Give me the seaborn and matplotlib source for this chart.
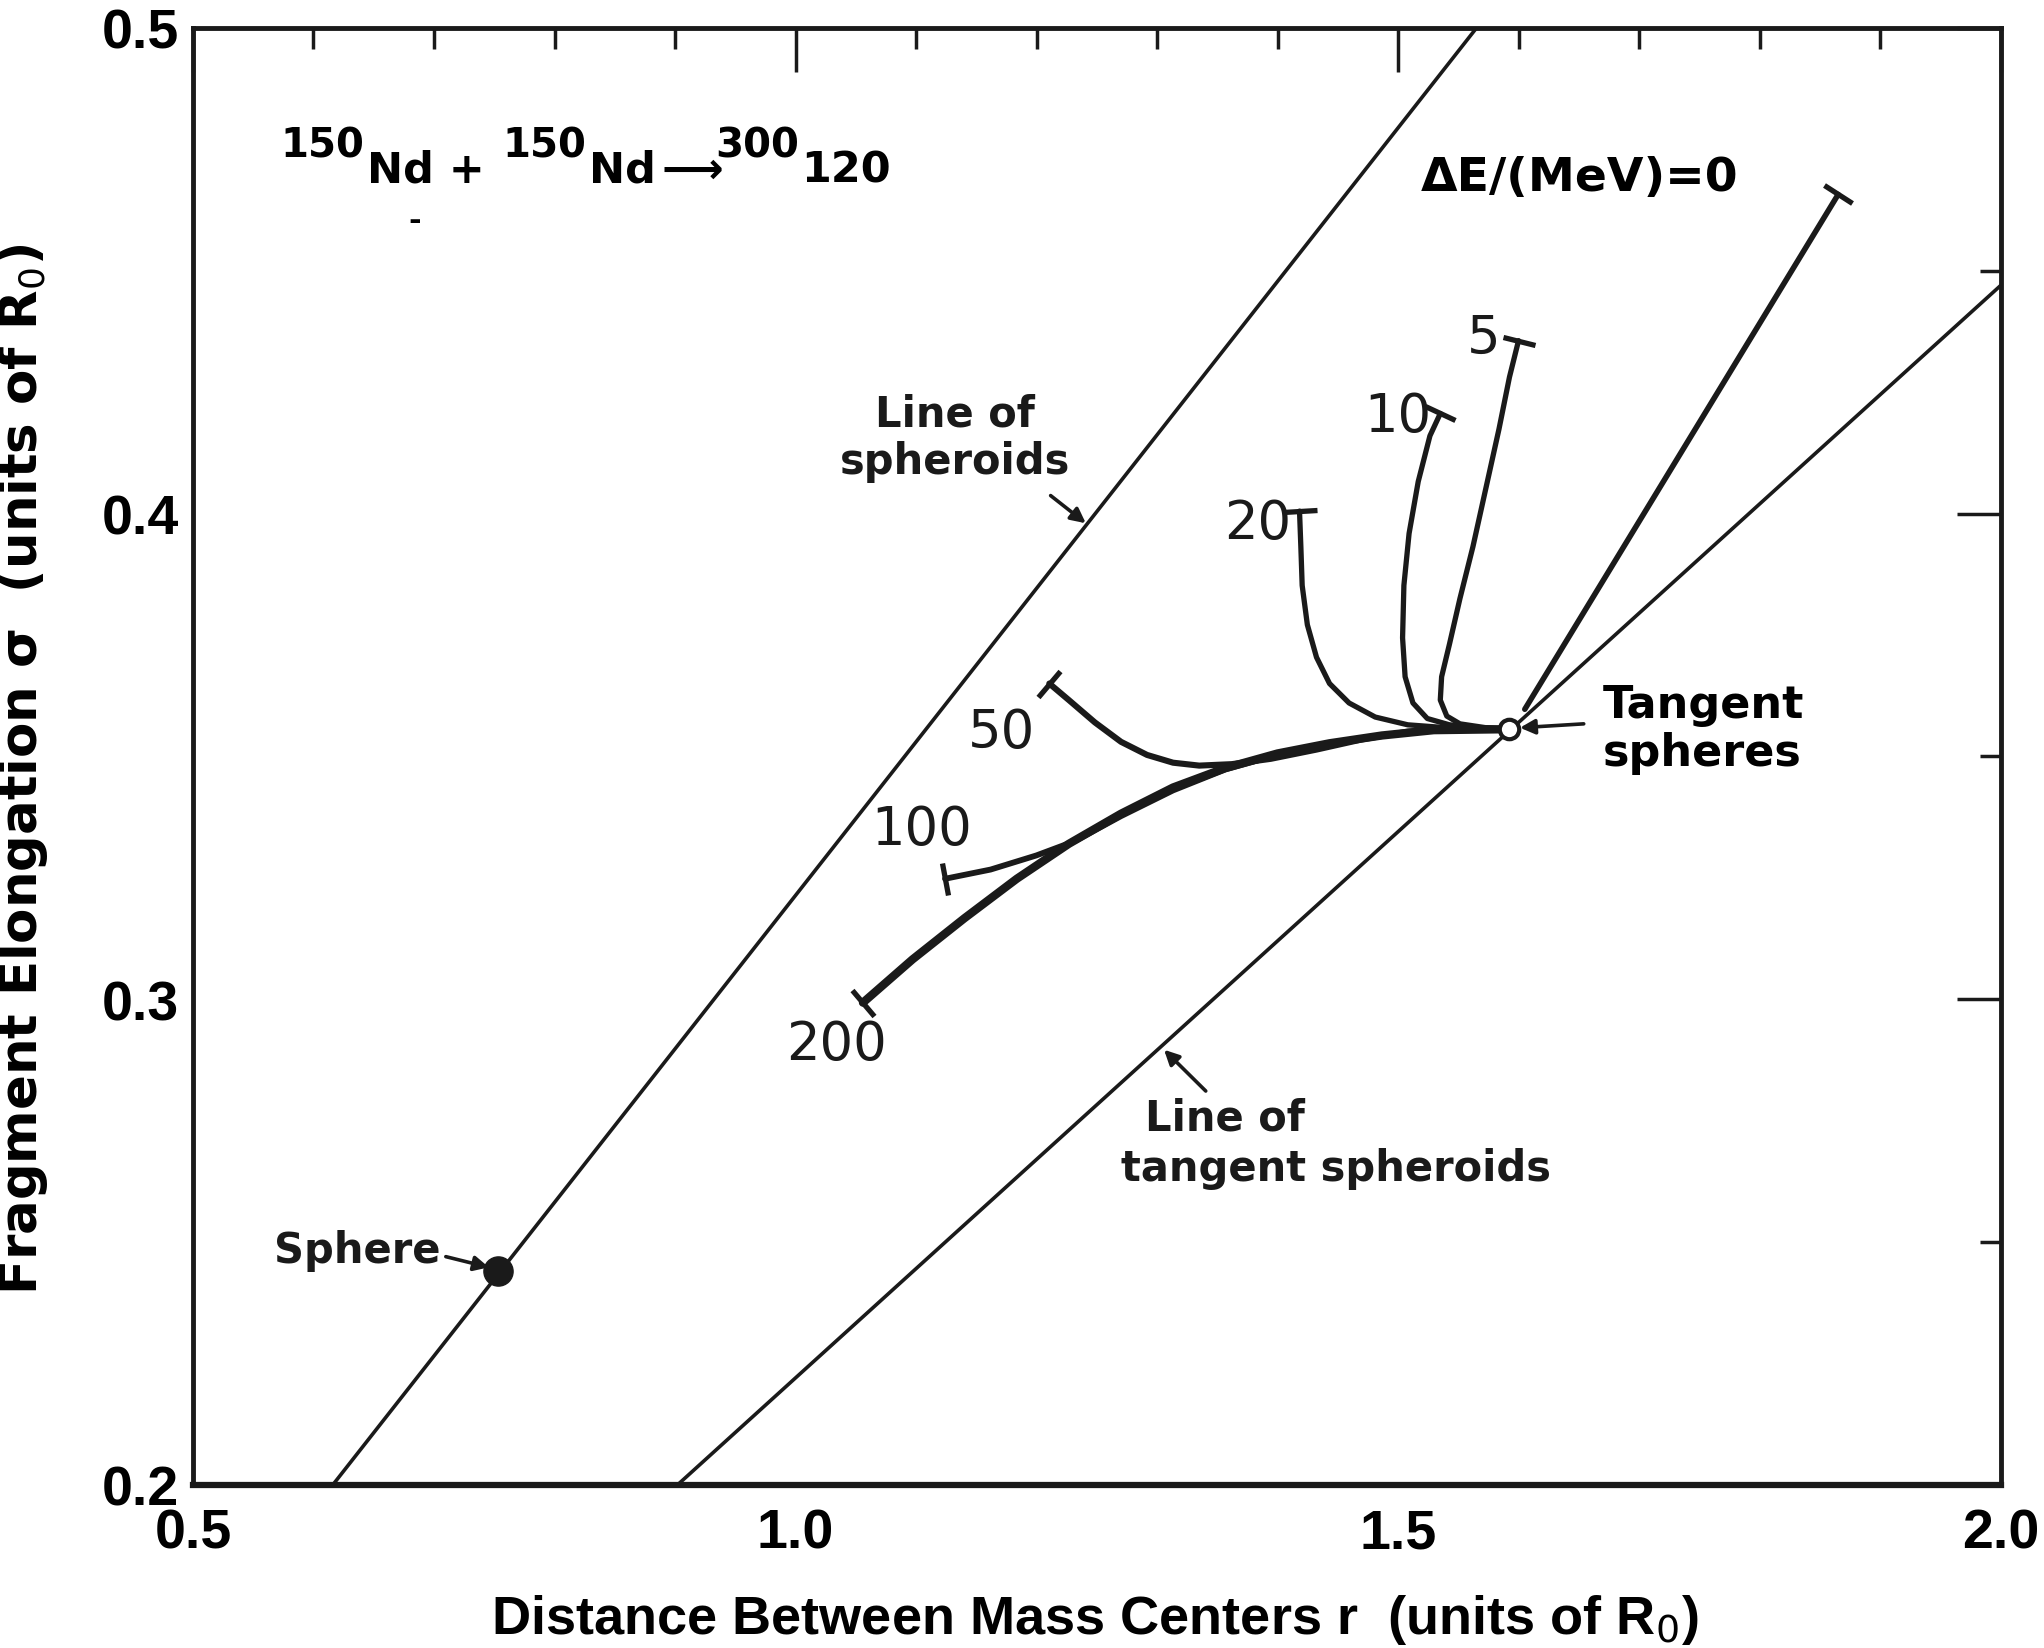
import numpy as np
import pandas as pd
import matplotlib
matplotlib.use("Agg")
import matplotlib.pyplot as plt
import seaborn as sns
from matplotlib.markers import MarkerStyle
from matplotlib.transforms import Affine2D

sns.set_theme(style="white")
plt.rcParams['font.family'] = ['DejaVu Sans']
plt.rcParams['mathtext.fontset'] = 'dejavusans'
plt.rcParams['text.color'] = 'black'
plt.rcParams['axes.labelcolor'] = 'black'
plt.rcParams['xtick.color'] = 'black'
plt.rcParams['ytick.color'] = 'black'

NARROW = ['Liberation Sans', 'DejaVu Sans']

# straight reference lines, read where they meet the frame
spheroid_r = [0.616, 1.565]
spheroid_s = [0.200, 0.500]
tangent_r = [0.902, 2.000]
tangent_s = [0.200, 0.447]

sphere_r, sphere_s = 0.753, 0.244
touch_r, touch_s = 1.592, 0.3556

# trajectories for each dE, from the barred end down to the tangent spheres
r_e0 = [1.865, 1.605]
s_e0 = [0.4657, 0.3597]
r_e5 = [1.5998, 1.5923, 1.5836, 1.5728, 1.5620, 1.5512, 1.5425, 1.5360, 1.5349,
        1.5403, 1.5512, 1.5728, 1.5923]
s_e5 = [0.4356, 0.4281, 0.4174, 0.4053, 0.3932, 0.3825, 0.3731, 0.3664, 0.3616,
        0.3583, 0.3567, 0.3559, 0.3556]
r_e10 = [1.5349, 1.5263, 1.5166, 1.5090, 1.5047, 1.5036, 1.5057, 1.5122, 1.5241,
         1.5425, 1.5674, 1.5923]
s_e10 = [0.4206, 0.4160, 0.4066, 0.3959, 0.3852, 0.3744, 0.3664, 0.3610, 0.3578,
         0.3565, 0.3559, 0.3556]
r_e20 = [1.4181, 1.4192, 1.4203, 1.4246, 1.4322, 1.4430, 1.4592, 1.4809, 1.5079,
         1.5403, 1.5923]
s_e20 = [0.4005, 0.3932, 0.3852, 0.3771, 0.3704, 0.3650, 0.3610, 0.3581, 0.3565,
         0.3559, 0.3556]
r_e50 = [1.2105, 1.2267, 1.2483, 1.2700, 1.2916, 1.3132, 1.3349, 1.3619, 1.3943,
         1.4322, 1.4700, 1.5079, 1.5457, 1.5923]
s_e50 = [0.3650, 0.3616, 0.3570, 0.3530, 0.3503, 0.3487, 0.3481, 0.3484, 0.3495,
         0.3514, 0.3535, 0.3551, 0.3559, 0.3556]
r_e100 = [1.1240, 1.1618, 1.1997, 1.2321, 1.2700, 1.3132, 1.3565, 1.3998, 1.4430,
          1.4863, 1.5295, 1.5923]
s_e100 = [0.3248, 0.3267, 0.3296, 0.3326, 0.3377, 0.3430, 0.3473, 0.3503, 0.3527,
          0.3543, 0.3554, 0.3556]
r_e200 = [1.0559, 1.0970, 1.1402, 1.1835, 1.2267, 1.2700, 1.3132, 1.3565, 1.3998,
          1.4430, 1.4863, 1.5295, 1.5923]
s_e200 = [0.2993, 0.3082, 0.3167, 0.3248, 0.3320, 0.3382, 0.3436, 0.3476, 0.3506,
          0.3527, 0.3543, 0.3554, 0.3556]

curves = {'0': (r_e0, s_e0), '5': (r_e5, s_e5), '10': (r_e10, s_e10),
          '20': (r_e20, s_e20), '50': (r_e50, s_e50), '100': (r_e100, s_e100),
          '200': (r_e200, s_e200)}
widths = {'0': 4.0, '5': 3.8, '10': 3.8, '20': 3.8, '50': 4.4, '100': 4.2, '200': 6.0}

rows = []
for k, (rr, ss) in curves.items():
    for i, (a, b) in enumerate(zip(rr, ss)):
        rows.append({'dE': k, 'i': i, 'r': a, 'sigma': b})
df = pd.DataFrame(rows)

fig = plt.figure(figsize=(20.44, 16.49), dpi=100)
ax = fig.add_axes([0.0944, 0.0989, 0.8845, 0.8836])
ax.set_xlim(0.5, 2.0)
ax.set_ylim(0.2, 0.5)

# frame lines
sns.lineplot(x=spheroid_r, y=spheroid_s, color='k', lw=2.6, ax=ax)
sns.lineplot(x=tangent_r, y=tangent_s, color='k', lw=2.6, ax=ax)

for k in curves:
    sub = df[df['dE'] == k]
    sns.lineplot(data=sub, x='r', y='sigma', sort=False, estimator=None,
                 color='k', lw=widths[k], ax=ax)
    rr, ss = curves[k]
    p0 = ax.transData.transform((rr[0], ss[0]))
    p1 = ax.transData.transform((rr[1], ss[1]))
    ang = np.degrees(np.arctan2(p1[1] - p0[1], p1[0] - p0[0]))
    bar = MarkerStyle('|', transform=Affine2D().rotate_deg(ang))
    ax.plot(rr[0], ss[0], marker=bar, ms=24, mew=3.8, color='k')

ax.plot(sphere_r, sphere_s, 'o', color='k', ms=21)
ax.plot(touch_r, touch_s, 'o', mfc='white', mec='k', mew=3, ms=14, zorder=5)

# curve labels
lab_pos = {'5': (1.5706, 0.4361), '10': (1.4993, 0.4200), '20': (1.3835, 0.3980),
           '50': (1.1705, 0.3551), '100': (1.1045, 0.3350), '200': (1.0342, 0.2907)}
for k, (x, y) in lab_pos.items():
    ax.text(x, y, k, fontsize=38, ha='center', va='center', color='k')

ax.text(1.5187, 0.4691, 'ΔE/(MeV)=0', fontsize=34, fontweight='bold',
        ha='left', va='center')

# reaction
t = ax.text(0.5725, 0.4716, '150', fontsize=29, fontweight='bold', va='bottom')
parts = [('Nd + ', 2, -18), ('150', 2, 18), ('Nd', 2, -18), ('\u27f6', 4, 0),
         ('300', -6, 18), ('120', 2, -18)]
prev = t
for s, dx, dy in parts:
    prev = ax.annotate(s, xy=(1, 0), xycoords=prev, xytext=(dx, dy),
                       textcoords='offset points',
                       fontsize=29 if s in ('150', '300') else 31,
                       fontweight='bold', va='bottom', ha='left')
ax.text(0.6838, 0.4603, '-', fontsize=22, fontweight='bold', ha='center', va='center')

ann = dict(fontsize=30, fontweight='bold', color='k')
arrow = dict(arrowstyle='-|>', color='k', lw=2.6, mutation_scale=22, shrinkA=0, shrinkB=0)

ax.text(1.1326, 0.4157, 'Line of\nspheroids', ha='center', va='center',
        multialignment='center', linespacing=1.15, **ann)
ax.annotate('', xy=(1.2408, 0.3980), xytext=(1.2116, 0.4037), arrowprops=arrow)

ax.text(1.3565, 0.2757, 'Line of', ha='center', va='center', **ann)
ax.text(1.4484, 0.2652, 'tangent spheroids', ha='center', va='center', **ann)
ax.annotate('', xy=(1.3057, 0.2896), xytext=(1.3403, 0.2811), arrowprops=arrow)

ax.text(0.7055, 0.2483, 'Sphere', ha='right', va='center', **ann)
ax.annotate('', xy=(0.7455, 0.2448), xytext=(0.7098, 0.2470), arrowprops=arrow)

ax.text(1.670, 0.3557, 'Tangent\nspheres', ha='left', va='center',
        linespacing=1.15, fontsize=32, fontweight='bold')
ax.annotate('', xy=(1.601, 0.3559), xytext=(1.6539, 0.3567), arrowprops=arrow)

# axes styling
ax.set_xticks([0.5, 1.0, 1.5, 2.0])
ax.set_xticks(np.arange(0.6, 2.0, 0.1), minor=True)
ax.set_yticks([0.2, 0.3, 0.4, 0.5])
ax.set_yticks([0.25, 0.35, 0.45], minor=True)
ax.set_xticklabels(['0.5', '1.0', '1.5', '2.0'])
ax.set_yticklabels(['0.2', '0.3', '0.4', '0.5'])
ax.tick_params(which='both', direction='in', top=True, right=True, color='k', width=2.5)
ax.tick_params(which='major', length=32)
ax.tick_params(which='minor', length=15)
ax.tick_params(axis='x', which='major', pad=16)
ax.tick_params(axis='y', which='major', pad=10)
for lab in ax.get_xticklabels() + ax.get_yticklabels():
    lab.set_family(NARROW)
    lab.set_fontweight('bold')
    lab.set_fontsize(40)
for sp in ax.spines.values():
    sp.set_color('k')
    sp.set_linewidth(3.5)
ax.spines['bottom'].set_linewidth(4.5)

ax.set_xlabel('Distance Between Mass Centers r  (units of R$_0$)', family=NARROW,
              fontweight='bold', fontsize=39)
ax.xaxis.set_label_coords(0.499, -0.0733)
ax.set_ylabel('Fragment Elongation σ  (units of R$_0$)', fontweight='bold', fontsize=37)
ax.yaxis.set_label_coords(-0.079, 0.492)

fig.savefig('out.png', dpi=100)
